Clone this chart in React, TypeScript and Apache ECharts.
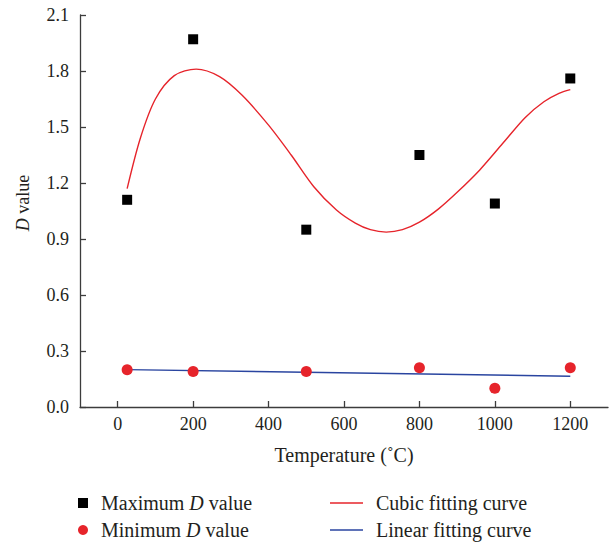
import React, { useEffect, useRef } from "react";
import * as echarts from "echarts";

const temps = [25, 200, 500, 800, 1000, 1200];
const maxD = [1.11, 1.97, 0.95, 1.35, 1.09, 1.76];
const minD = [0.2, 0.19, 0.19, 0.21, 0.1, 0.21];
const cubicX = [25, 60, 100, 150, 208, 270, 330, 400, 460, 520, 580, 630, 670, 712, 755, 800, 850, 900, 960, 1020, 1080, 1130, 1170, 1200];
const cubicY = [1.17, 1.44, 1.65, 1.775, 1.81, 1.77, 1.67, 1.51, 1.35, 1.18, 1.055, 0.985, 0.95, 0.937, 0.95, 0.99, 1.06, 1.15, 1.27, 1.41, 1.55, 1.635, 1.68, 1.7];
const linearX = [25, 1200];
const linearY = [0.2, 0.165];
const xTickValues = [0, 200, 400, 600, 800, 1000, 1200];

const FONT = "'Liberation Serif', 'DejaVu Serif', serif";
const AXIS_COLOR = "#3c3c3c";
const TEXT_COLOR = "#231f20";
const RED = "#e6242b";
const BLUE = "#2a45a0";

export default function App() {
  const ref = useRef<HTMLDivElement>(null);
  useEffect(() => {
    if (!ref.current) return;
    const chart = echarts.init(ref.current, null, { renderer: "svg" });
    const zip = (xs: number[], ys: number[]) => xs.map((x, i) => [x, ys[i]]);
    const legendFormatter = (name: string) => name.replace(" D ", " {i|D} ");
    const legendText = {
      fontFamily: FONT,
      fontSize: 20,
      color: TEXT_COLOR,
      lineHeight: 20,
      padding: [0, 0, 0, 8],
      rich: { i: { fontStyle: "italic", fontFamily: FONT, fontSize: 20, color: TEXT_COLOR } },
    };
    chart.setOption({
      animation: false,
      backgroundColor: "#ffffff",
      textStyle: { fontFamily: FONT },
      grid: { left: 80, right: 2, top: 15, bottom: 139 },
      xAxis: {
        type: "value",
        min: -100,
        max: 1300,
        name: "Temperature (˚C)",
        nameLocation: "middle",
        nameGap: 38,
        nameTextStyle: { fontFamily: FONT, fontSize: 20, color: TEXT_COLOR },
        axisLine: { show: true, onZero: false, lineStyle: { color: AXIS_COLOR, width: 1.3 } },
        axisTick: { show: true, inside: true, length: 6, customValues: xTickValues, lineStyle: { color: AXIS_COLOR, width: 1.3 } },
        axisLabel: {
          customValues: xTickValues,
          fontFamily: FONT,
          fontSize: 18,
          color: TEXT_COLOR,
          margin: 8,
          formatter: (v: number) => String(v),
        },
        splitLine: { show: false },
      },
      yAxis: {
        type: "value",
        min: 0,
        max: 2.1,
        interval: 0.3,
        name: "{i|D} value",
        nameLocation: "middle",
        nameRotate: 90,
        nameGap: 48,
        nameTextStyle: {
          fontFamily: FONT,
          fontSize: 18,
          color: TEXT_COLOR,
          padding: [0, 0, 0, 16],
          rich: { i: { fontStyle: "italic", fontFamily: FONT, fontSize: 18, color: TEXT_COLOR } },
        },
        axisLine: { show: true, onZero: false, lineStyle: { color: AXIS_COLOR, width: 1.3 } },
        axisTick: { show: true, inside: true, length: 6, lineStyle: { color: AXIS_COLOR, width: 1.3 } },
        axisLabel: {
          fontFamily: FONT,
          fontSize: 18,
          color: TEXT_COLOR,
          margin: 11,
          formatter: (v: number) => v.toFixed(1),
        },
        splitLine: { show: false },
      },
      legend: [
        {
          orient: "vertical",
          left: 78,
          top: 493,
          padding: 0,
          itemWidth: 10,
          itemHeight: 10,
          itemGap: 7,
          data: [
            { name: "Maximum D value", icon: "rect" },
            { name: "Minimum D value", icon: "circle" },
          ],
          formatter: legendFormatter,
          textStyle: legendText,
        },
        {
          orient: "vertical",
          left: 330,
          top: 493,
          padding: 0,
          itemWidth: 33,
          itemHeight: 1.5,
          itemGap: 7,
          data: [
            { name: "Cubic fitting curve", icon: "rect" },
            { name: "Linear fitting curve", icon: "rect" },
          ],
          textStyle: legendText,
        },
      ],
      series: [
        {
          name: "Cubic fitting curve",
          type: "line",
          data: zip(cubicX, cubicY),
          smooth: 0.3,
          showSymbol: false,
          symbol: "none",
          lineStyle: { color: RED, width: 1.4 },
          itemStyle: { color: RED },
          z: 2,
        },
        {
          name: "Linear fitting curve",
          type: "line",
          data: zip(linearX, linearY),
          showSymbol: false,
          symbol: "none",
          lineStyle: { color: BLUE, width: 1.4 },
          itemStyle: { color: BLUE },
          z: 2,
        },
        {
          name: "Maximum D value",
          type: "scatter",
          data: zip(temps, maxD),
          symbol: "rect",
          symbolSize: 10,
          itemStyle: { color: "#000000", opacity: 1 },
          z: 3,
        },
        {
          name: "Minimum D value",
          type: "scatter",
          data: zip(temps, minD),
          symbol: "circle",
          symbolSize: 11,
          itemStyle: { color: RED, opacity: 1 },
          z: 3,
        },
      ],
    });
    return () => chart.dispose();
  }, []);
  return <div ref={ref} style={{ position: "fixed", left: 0, top: 0, width: 610, height: 546 }} />;
}
